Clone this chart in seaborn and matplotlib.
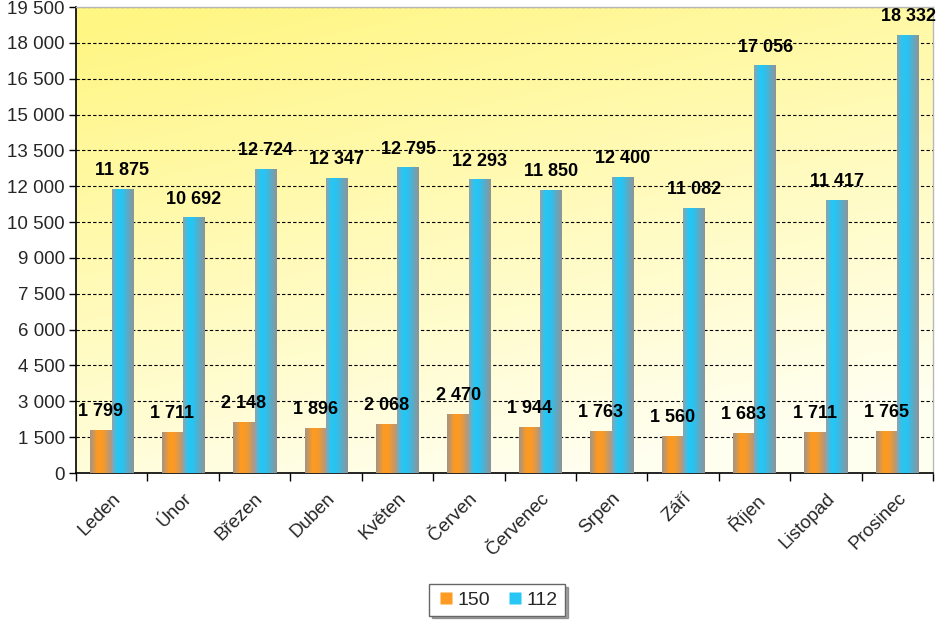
import numpy as np
import pandas as pd
import seaborn as sns
import matplotlib
matplotlib.use("Agg")
import matplotlib.pyplot as plt
from matplotlib.colors import LinearSegmentedColormap
from matplotlib.lines import Line2D

months = ["Leden", "Únor", "Březen", "Duben", "Květen", "Červen",
          "Červenec", "Srpen", "Září", "Říjen", "Listopad", "Prosinec"]
series_names = ["150", "112"]
vals_150 = [1799, 1711, 2148, 1896, 2068, 2470, 1944, 1763, 1560, 1683, 1711, 1765]
vals_112 = [11875, 10692, 12724, 12347, 12795, 12293, 11850, 12400, 11082, 17056, 11417, 18332]
yticks = list(range(0, 19501, 1500))

df = pd.DataFrame({
    "month": months * 2,
    "series": [series_names[0]] * len(months) + [series_names[1]] * len(months),
    "value": vals_150 + vals_112,
})

sns.set_theme(style="white")
plt.rcParams['font.family'] = ['Liberation Sans', 'DejaVu Sans']

fig = plt.figure(figsize=(9.38, 6.23), dpi=100)
ax = fig.add_axes([76 / 938, 1 - 473 / 623, (933 - 76) / 938, (473 - 7) / 623])

col_orange = "#FF9A22"
col_blue = "#27C6F4"
sns.barplot(data=df, x="month", y="value", hue="series", order=months,
            hue_order=series_names, palette=[col_orange, col_blue],
            width=0.6, gap=0, ax=ax, legend=False, zorder=3)

# background gradient of plot area (yellow at top-left, cream at bottom-right)
ny, nx = 200, 200
yy, xx = np.mgrid[0:1:ny * 1j, 0:1:nx * 1j]
t = np.clip(0.85 * yy + 0.35 * (1 - xx) - 0.15, 0, 1)
c_light = np.array([1.0, 1.0, 0.94])
c_yel = np.array([1.0, 0.965, 0.52])
img = c_light[None, None, :] * (1 - t[..., None]) + c_yel[None, None, :] * t[..., None]
ax.imshow(img, extent=[0, 1, 0, 1], transform=ax.transAxes, origin="lower",
          aspect="auto", zorder=0)

cmap_o = LinearSegmentedColormap.from_list("o", [(0, "#A39488"), (0.35, "#FF9A1E"),
                                                  (0.6, "#F79A2A"), (1, "#A8988C")])
cmap_b = LinearSegmentedColormap.from_list("b", [(0, "#8EA2AE"), (0.25, "#22C8F6"),
                                                  (0.5, "#2EC0EE"), (1, "#8E9498")])
grad = np.linspace(0, 1, 64)[None, :]
bars = [p for p in ax.patches]
n = len(months)
for i, p in enumerate(bars):
    cm = cmap_o if i < n else cmap_b
    x0, w, h = p.get_x(), p.get_width(), p.get_height()
    p.set_facecolor("none")
    p.set_edgecolor("none")
    im = ax.imshow(grad, cmap=cm, extent=[x0, x0 + w, 0, h], aspect="auto",
                   zorder=3, interpolation="bicubic")
    im.set_clip_path(p)

# value labels
for i, p in enumerate(bars):
    v = (vals_150 + vals_112)[i]
    ax.annotate(f"{v:,}".replace(",", " "), (p.get_x() + p.get_width() / 2, v),
                xytext=(0, 7), textcoords="offset points", ha="center", va="bottom",
                fontsize=13, fontweight="bold", color="black", zorder=5,
                annotation_clip=False)

ax.set_xlim(-0.5, n - 0.5)
ax.set_ylim(0, 19500)
ax.set_yticks(yticks)
ax.set_yticklabels([f"{v:,}".replace(",", " ") for v in yticks], fontsize=13.5)
ax.yaxis.grid(True, linestyle=(0, (3, 2)), color="black", linewidth=0.8, zorder=1)
ax.set_axisbelow(True)
ax.set_xticks(range(n))
ax.set_xticklabels(months, rotation=45, ha="right", rotation_mode="anchor", fontsize=13.5)
ax.set_xticks(np.arange(-0.5, n, 1), minor=True)
ax.tick_params(axis="x", which="major", length=0, pad=12)
ax.tick_params(axis="x", which="minor", length=6, width=1, color="black", direction="out", bottom=True)
ax.tick_params(axis="y", length=5, width=1, color="black", direction="out", left=True, pad=3)
ax.set_xlabel("")
ax.set_ylabel("")
for s in ["left", "bottom"]:
    ax.spines[s].set_color("black")
    ax.spines[s].set_linewidth(1.2)
for s in ["top", "right"]:
    ax.spines[s].set_color("#B8B8B8")
    ax.spines[s].set_linewidth(1)

handles = [Line2D([], [], marker="s", linestyle="none", markersize=8,
                  markerfacecolor=col_orange, markeredgecolor="none"),
           Line2D([], [], marker="s", linestyle="none", markersize=8,
                  markerfacecolor=col_blue, markeredgecolor="none")]
leg = fig.legend(handles, series_names, loc="center", bbox_to_anchor=(497 / 938, 1 - 600 / 623),
                 ncol=2, fontsize=14, frameon=True, fancybox=False, shadow=True,
                 handletextpad=0.1, columnspacing=0.8, borderpad=0.35, handlelength=1.0)
leg.get_frame().set_edgecolor("#666666")
leg.get_frame().set_linewidth(1)

fig.savefig("out.png", dpi=100, facecolor="white")
